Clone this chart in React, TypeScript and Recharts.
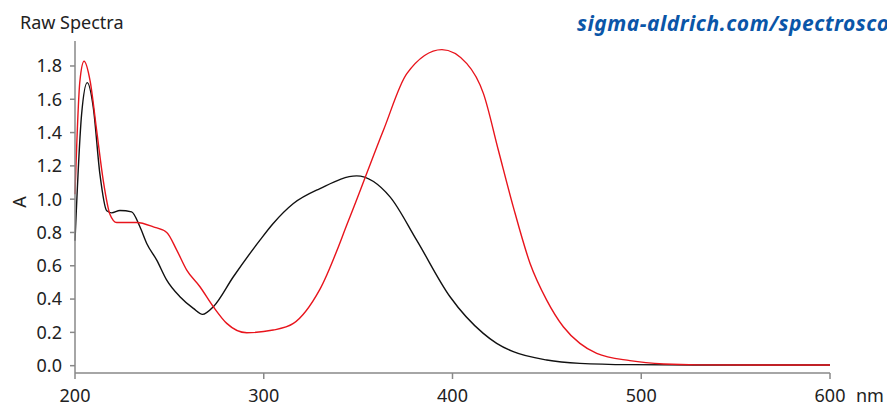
import React from "react";
import { LineChart, Line, XAxis, YAxis } from "recharts";

// black spectrum
const blackNm = [200, 203.5, 206.5, 209.7, 213.2, 216.8, 219.4, 223.8, 230, 234.4, 238, 243.3, 248.6, 255.6, 262.7, 267.6, 273.3, 283.9, 298, 305, 315.7, 329.8, 349.2, 366.9, 381, 398.7, 416.3, 423.4, 432.2, 449.9, 467.5, 494, 530, 600];
const blackA = [0.75, 1.51, 1.7, 1.55, 1.15, 0.93, 0.918, 0.932, 0.924, 0.834, 0.734, 0.634, 0.514, 0.414, 0.344, 0.308, 0.354, 0.534, 0.754, 0.854, 0.974, 1.064, 1.14, 1.014, 0.754, 0.414, 0.194, 0.134, 0.084, 0.034, 0.014, 0.006, 0.004, 0.004];

// red spectrum
const redNm = [200, 202.6, 204.8, 208, 211.5, 215, 218.5, 222.1, 232.7, 241.5, 248.6, 253.9, 259.2, 266.2, 273.3, 280.4, 291, 305, 315.7, 329.8, 345.7, 363.4, 375.8, 394.4, 407.6, 416.4, 424.3, 432.2, 441.1, 449.9, 458.7, 467.5, 476.4, 494, 512, 530, 600];
const redA = [1.03, 1.71, 1.828, 1.71, 1.41, 1.11, 0.91, 0.86, 0.86, 0.834, 0.8, 0.694, 0.574, 0.474, 0.354, 0.254, 0.198, 0.214, 0.254, 0.46, 0.894, 1.414, 1.754, 1.898, 1.814, 1.634, 1.294, 0.954, 0.614, 0.394, 0.234, 0.134, 0.074, 0.03, 0.01, 0.005, 0.004];

const xTicks = [200, 300, 400, 500, 600];
const yTicks = [0, 0.2, 0.4, 0.6, 0.8, 1.0, 1.2, 1.4, 1.6, 1.8];

const blackData = blackNm.map((nm, i) => ({ nm, a: blackA[i] }));
const redData = redNm.map((nm, i) => ({ nm, a: redA[i] }));

const font = "'Noto Sans', 'Open Sans', sans-serif";
const tickStyle = { fontSize: 18, fill: "#222", fontFamily: font };

export default function App() {
  return (
    <div style={{ position: "absolute", left: 0, top: 0, width: 887, height: 405, background: "#fff", overflow: "hidden" }}>
      <LineChart width={887} height={405} margin={{ top: 41, right: 57, left: 0, bottom: 0 }}>
        <XAxis
          dataKey="nm"
          type="number"
          domain={[200, 600]}
          ticks={xTicks}
          allowDuplicatedCategory={false}
          height={32}
          stroke="#888"
          strokeWidth={1.5}
          tickSize={6}
          tick={tickStyle}
          tickMargin={10}
        />
        <YAxis
          type="number"
          domain={[-0.044, 1.95]}
          ticks={yTicks}
          width={75}
          stroke="#888"
          strokeWidth={1.5}
          tickSize={5}
          tickMargin={8}
          tick={tickStyle}
          tickFormatter={(v: number) => v.toFixed(1)}
        />
        <Line data={blackData} dataKey="a" type="monotone" stroke="#111" strokeWidth={1.4} dot={false} isAnimationActive={false} />
        <Line data={redData} dataKey="a" type="monotone" stroke="#e8141c" strokeWidth={1.4} dot={false} isAnimationActive={false} />
        <text x={20} y={29} fontSize={18} fill="#222" fontFamily={font}>Raw Spectra</text>
        <text x={19} y={202} fontSize={18} fill="#222" fontFamily={font} textAnchor="middle" dominantBaseline="central" transform="rotate(-90 19 202)">A</text>
        <text x={856} y={402} fontSize={18} fill="#222" fontFamily={font}>nm</text>
        <text x={577} y={31} fontSize={21} letterSpacing={0.5} fill="#0a56a8" fontFamily={font} fontWeight="bold" fontStyle="italic">sigma-aldrich.com/spectroscopy</text>
      </LineChart>
    </div>
  );
}
